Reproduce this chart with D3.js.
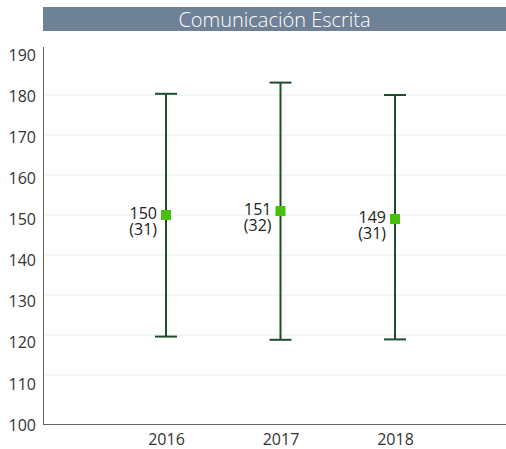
<!DOCTYPE html>
<html>
<head>
<meta charset="utf-8">
<script src="https://cdn.jsdelivr.net/npm/d3@7"></script>
<style>
  html, body { margin: 0; padding: 0; background: #fff; }
  svg { display: block; font-family: "Open Sans", "Noto Sans", sans-serif; }
</style>
</head>
<body>
<svg id="chart" width="506" height="449"></svg>
<script>
// datos
const years = ["2016", "2017", "2018"];
const means = [150, 151, 149];
const sds = [31, 32, 31];
const upper = [180.3, 183.1, 180.0];
const lower = [119.6, 118.8, 118.9];
const yTicks = [100, 110, 120, 130, 140, 150, 160, 170, 180, 190];
const gridVals = [110, 120, 130, 140, 150, 160, 170, 180];
const title = "Comunicación Escrita";

const svg = d3.select("#chart");
const L = 43, R = 506, B = 424, T = 47;

// escala de datos (4 px por unidad) y escala de etiquetas (espaciado propio del original)
const y = d3.scaleLinear().domain([97.75, 192]).range([B, T]);
const yLab = d3.scaleLinear().domain([100, 190]).range([425, 55]);
const x = d3.scalePoint().domain(years).range([166, 395]);

// barra de título
svg.append("rect").attr("x", L).attr("y", 7).attr("width", R - L).attr("height", 24).attr("fill", "#6f8197");
svg.append("text").attr("x", (L + R) / 2).attr("y", 26.5).attr("text-anchor", "middle")
  .attr("font-size", 20).attr("font-weight", 300).attr("fill", "#fff").text(title);

// rejilla
svg.append("g").selectAll("line").data(gridVals).join("line")
  .attr("x1", L + 1).attr("x2", R).attr("y1", (d) => y(d)).attr("y2", (d) => y(d))
  .attr("stroke", "#e3efec").attr("stroke-width", 1);

// ejes
const yAxis = svg.append("g").attr("transform", `translate(${L},0)`)
  .call(d3.axisLeft(yLab).tickValues(yTicks).tickSize(0).tickPadding(7));
yAxis.select(".domain").remove();
yAxis.selectAll("text").attr("font-size", 16).attr("fill", "#333").attr("font-family", "Open Sans, sans-serif");
svg.append("line").attr("x1", L + 0.5).attr("x2", L + 0.5).attr("y1", T).attr("y2", B).attr("stroke", "#666");
svg.append("line").attr("x1", L).attr("x2", R).attr("y1", B + 0.5).attr("y2", B + 0.5).attr("stroke", "#666");

const xAxis = svg.append("g").attr("transform", `translate(0,${B})`)
  .call(d3.axisBottom(x).tickSize(0).tickPadding(10));
xAxis.select(".domain").remove();
xAxis.selectAll("text").attr("font-size", 16).attr("fill", "#333").attr("font-family", "Open Sans, sans-serif");

// barras de error
const bars = svg.append("g").selectAll("g").data(years).join("g");
const col = "#1f4d2b";
bars.append("line").attr("x1", (d) => x(d)).attr("x2", (d) => x(d))
  .attr("y1", (d, i) => y(upper[i])).attr("y2", (d, i) => y(lower[i]))
  .attr("stroke", col).attr("stroke-width", 2);
bars.append("line").attr("x1", (d) => x(d) - 11).attr("x2", (d) => x(d) + 11)
  .attr("y1", (d, i) => y(upper[i])).attr("y2", (d, i) => y(upper[i]))
  .attr("stroke", col).attr("stroke-width", 2);
bars.append("line").attr("x1", (d) => x(d) - 11).attr("x2", (d) => x(d) + 11)
  .attr("y1", (d, i) => y(lower[i])).attr("y2", (d, i) => y(lower[i]))
  .attr("stroke", col).attr("stroke-width", 2);
bars.append("rect").attr("x", (d) => x(d) - 5).attr("y", (d, i) => y(means[i]) - 5)
  .attr("width", 10).attr("height", 10).attr("fill", "#45c10e");

// etiquetas media (desv.)
bars.append("text").attr("x", (d) => x(d) - 9).attr("y", (d, i) => y(means[i]) + 4)
  .attr("text-anchor", "end").attr("font-size", 16).attr("fill", "#222").text((d, i) => means[i]);
bars.append("text").attr("x", (d) => x(d) - 9).attr("y", (d, i) => y(means[i]) + 20)
  .attr("text-anchor", "end").attr("font-size", 16).attr("fill", "#222").text((d, i) => `(${sds[i]})`);
</script>
</body>
</html>
